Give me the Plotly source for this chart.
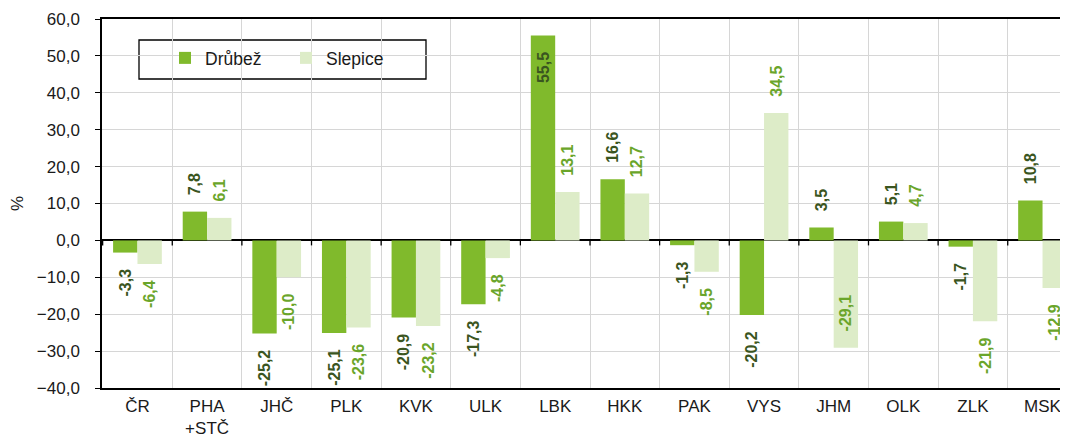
import plotly.graph_objects as go

categories = ["ČR", "PHA<br>+STČ", "JHČ", "PLK", "KVK", "ULK", "LBK", "HKK",
              "PAK", "VYS", "JHM", "OLK", "ZLK", "MSK"]
drubez = [-3.3, 7.8, -25.2, -25.1, -20.9, -17.3, 55.5, 16.6, -1.3, -20.2, 3.5, 5.1, -1.7, 10.8]
slepice = [-6.4, 6.1, -10.0, -23.6, -23.2, -4.8, 13.1, 12.7, -8.5, 34.5, -29.1, 4.7, -21.9, -12.9]
y_ticks = [-40, -30, -20, -10, 0, 10, 20, 30, 40, 50, 60]

PAD = "\u00a0" * 3
Y_MAX, Y_MIN = 60, -40


def fmt(v):
    return f"{v:.1f}".replace(".", ",")


def labels(vals):
    txt, pos = [], []
    for v in vals:
        if v >= 0 and v > Y_MAX - 15:      # no room above: inside, near top
            txt.append(fmt(v) + PAD)
            pos.append("inside")
        elif v >= 0:
            txt.append(PAD + fmt(v))
            pos.append("outside")
        elif v < Y_MIN + 13:               # no room below: inside, near bottom
            txt.append(PAD + fmt(v))
            pos.append("inside")
        else:
            txt.append(fmt(v) + PAD)
            pos.append("outside")
    return txt, pos


FONT = "Arial, Liberation Sans, sans-serif"
C_D = "#80ba2c"
C_S = "#ddecc8"
T_D = "#3a5520"
T_S = "#6aa52a"

# page body has an 8px margin: figure coordinates are page coordinates - 8
OFF = 8
PL, PT, PR, PB = 102 - OFF, 19 - OFF, 1078 - OFF, 388 - OFF
W, H = PR, 437 - OFF
PW, PH = PR - PL, PB - PT

dt, dp = labels(drubez)
st, sp = labels(slepice)

fig = go.Figure()
fig.add_trace(go.Bar(
    x=categories, y=drubez, name="Drůbež", marker=dict(color=C_D, line=dict(width=0)),
    text=dt, textposition=dp, textangle=-90, insidetextanchor="end",
    textfont=dict(family=FONT, size=16, color=T_D, weight="bold"),
    constraintext="none", cliponaxis=False,
))
fig.add_trace(go.Bar(
    x=categories, y=slepice, name="Slepice", marker=dict(color=C_S, line=dict(width=0)),
    text=st, textposition=sp, textangle=-90, insidetextanchor="end",
    textfont=dict(family=FONT, size=16, color=T_S, weight="bold"),
    constraintext="none", cliponaxis=False,
))

# small ticks on the zero line at category boundaries
for i in range(len(categories) + 1):
    fig.add_shape(type="line", xref="x", yref="y", x0=i - 0.5, x1=i - 0.5,
                  ysizemode="pixel", yanchor=0, y0=0, y1=-5,
                  line=dict(color="#000000", width=1.3), layer="above")

# legend frame (page px -> paper)
fig.add_shape(type="rect", xref="paper", yref="paper",
              x0=(139 - OFF - PL) / PW, x1=(426 - OFF - PL) / PW,
              y0=1 - (79 - OFF - PT) / PH, y1=1 - (40 - OFF - PT) / PH,
              line=dict(color="#000000", width=1.3), fillcolor="white", layer="below")

fig.update_layout(
    width=W, height=H,
    margin=dict(l=PL, r=W - PR, t=PT, b=H - PB),
    paper_bgcolor="white", plot_bgcolor="rgba(0,0,0,0)",
    barmode="group", bargap=0.3, bargroupgap=0,
    separators=", ",
    font=dict(family=FONT, size=16, color="#1a1a1a"),
    showlegend=True,
    legend=dict(orientation="h", x=(165 - OFF - PL) / PW, xanchor="left",
                y=1 - (40 - OFF - PT) / PH, yanchor="top",
                bgcolor="rgba(0,0,0,0)", borderwidth=0,
                font=dict(size=17.5, family=FONT, color="#1a1a1a"),
                entrywidth=76, entrywidthmode="pixels",
                itemwidth=30, traceorder="normal"),
    xaxis=dict(type="category", tickson="boundaries", showgrid=True,
               gridcolor="#d6d6d6", gridwidth=1, ticks="", showline=True,
               linecolor="#000000", linewidth=1.5, mirror=True,
               tickfont=dict(size=17, color="#1a1a1a"), ticklabelstandoff=2,
               automargin=False),
    yaxis=dict(range=[Y_MIN, Y_MAX], tickvals=y_ticks, tickformat=".1f",
               showgrid=True, gridcolor="#d6d6d6", gridwidth=1,
               zeroline=True, zerolinecolor="#000000", zerolinewidth=1.5,
               showline=True, linecolor="#000000", linewidth=1.5,
               ticks="outside", ticklen=5, tickcolor="#000000",
               tickfont=dict(size=17, color="#1a1a1a"), ticklabelstandoff=12,
               title=dict(text="%", standoff=12, font=dict(size=17)),
               automargin=False),
)

fig.write_html("out.html")
